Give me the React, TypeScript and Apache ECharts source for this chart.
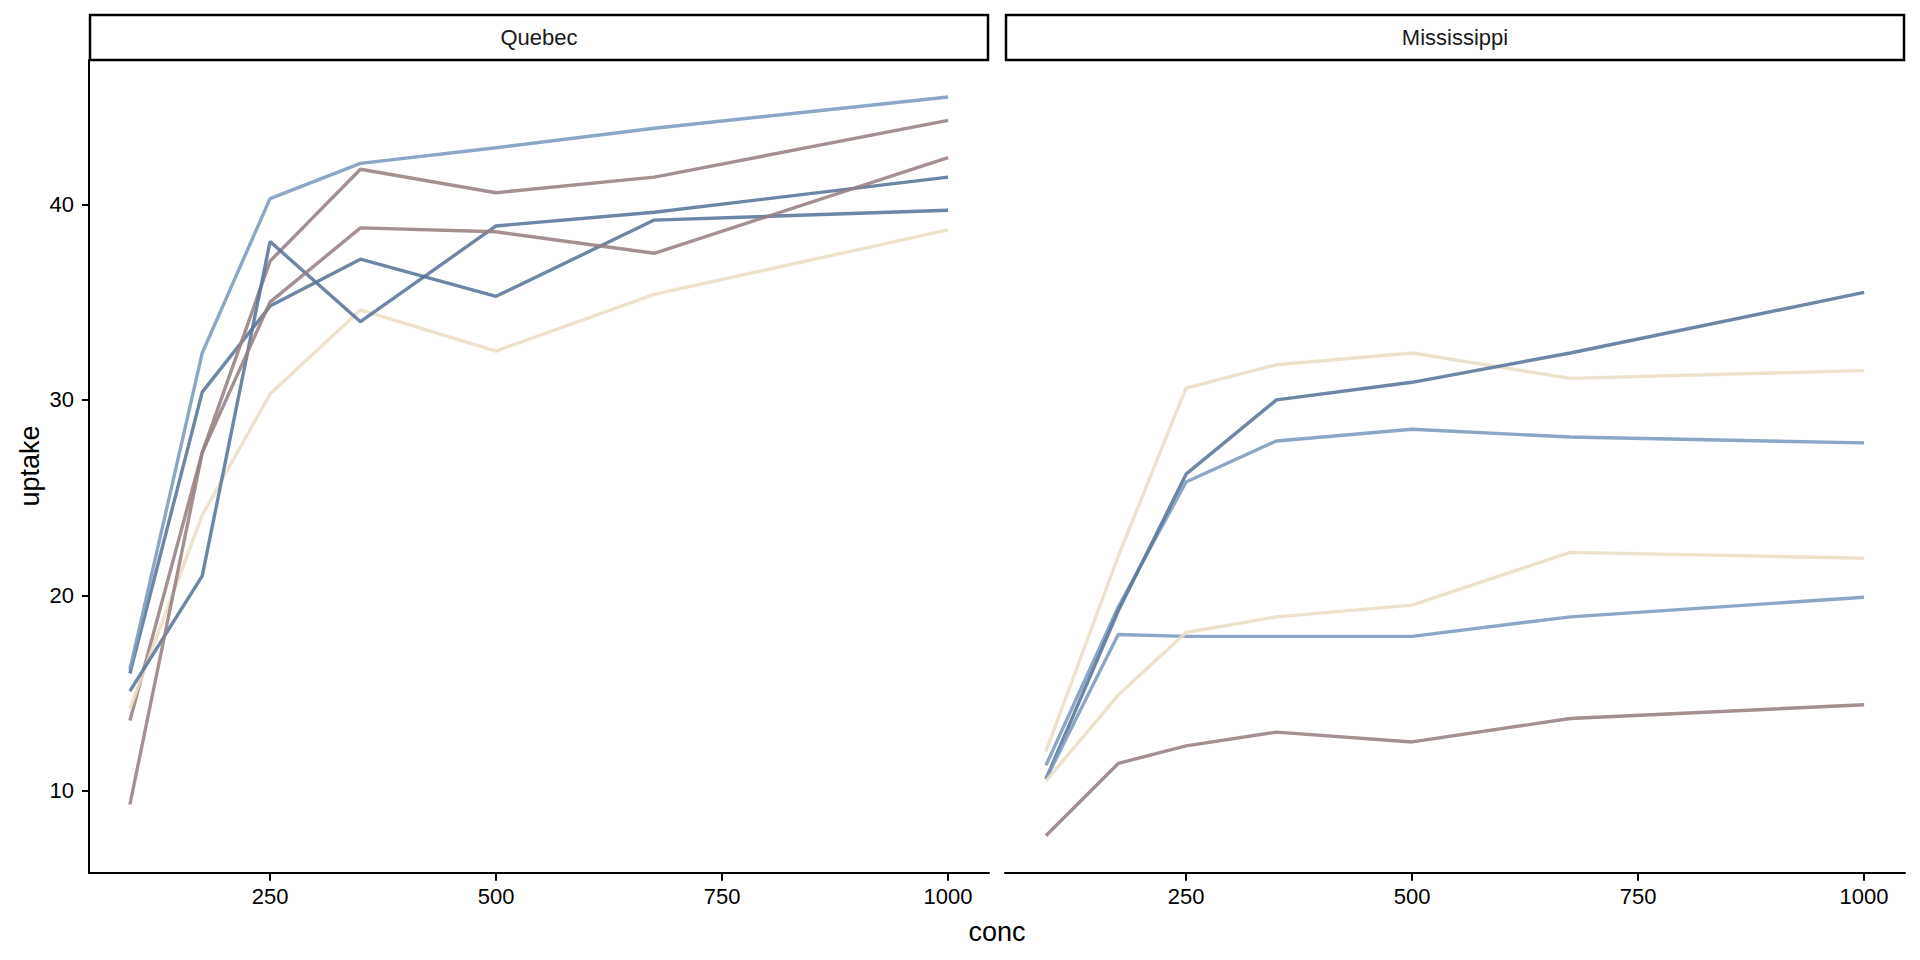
import React, { useEffect, useRef } from "react";
import * as echarts from "echarts";

const conc = [95, 175, 250, 350, 500, 675, 1000];
const panels = ["Quebec", "Mississippi"];
const plants = ["Qn1", "Qn2", "Qn3", "Qc1", "Qc3", "Qc2", "Mn3", "Mn2", "Mn1", "Mc2", "Mc3", "Mc1"];
const plantPanel = [0, 0, 0, 0, 0, 0, 1, 1, 1, 1, 1, 1];
const Qn1 = [16.0, 30.4, 34.8, 37.2, 35.3, 39.2, 39.7];
const Qn2 = [13.6, 27.3, 37.1, 41.8, 40.6, 41.4, 44.3];
const Qn3 = [16.2, 32.4, 40.3, 42.1, 42.9, 43.9, 45.5];
const Qc1 = [14.2, 24.1, 30.3, 34.6, 32.5, 35.4, 38.7];
const Qc3 = [15.1, 21.0, 38.1, 34.0, 38.9, 39.6, 41.4];
const Qc2 = [9.3, 27.3, 35.0, 38.8, 38.6, 37.5, 42.4];
const Mn3 = [11.3, 19.4, 25.8, 27.9, 28.5, 28.1, 27.8];
const Mn2 = [12.0, 22.0, 30.6, 31.8, 32.4, 31.1, 31.5];
const Mn1 = [10.6, 19.2, 26.2, 30.0, 30.9, 32.4, 35.5];
const Mc2 = [7.7, 11.4, 12.3, 13.0, 12.5, 13.7, 14.4];
const Mc3 = [10.6, 18.0, 17.9, 17.9, 17.9, 18.9, 19.9];
const Mc1 = [10.5, 14.9, 18.1, 18.9, 19.5, 22.2, 21.9];
const uptake = [Qn1, Qn2, Qn3, Qc1, Qc3, Qc2, Mn3, Mn2, Mn1, Mc2, Mc3, Mc1];
const palette = ["#587499", "#968080", "#7B99BE", "#EBDEC5"];
const xTicks = [250, 500, 750, 1000];
const yTicks = [10, 20, 30, 40];
const xRange = [49.75, 1045.25];
const yRange = [5.81, 47.39];

const FONT = "Liberation Sans, Arial, sans-serif";

export default function App() {
  const ref = useRef<HTMLDivElement>(null);
  useEffect(() => {
    if (!ref.current) return;
    const chart = echarts.init(ref.current, undefined, { renderer: "svg" });
    const gridTop = 60;
    const gridH = 812.7;
    const lefts = [89, 1005];
    const w = 900;
    const grids = lefts.map((l) => ({ left: l, top: gridTop, width: w, height: gridH }));
    const xAxes = lefts.map((_, i) => ({
      type: "value",
      gridIndex: i,
      min: xRange[0],
      max: xRange[1],
      splitLine: { show: false },
      axisLine: { show: true, onZero: false, lineStyle: { color: "#000", width: 2 } },
      axisTick: { show: true, length: 8, lineStyle: { color: "#000", width: 2 }, customValues: xTicks },
      axisLabel: {
        show: true,
        color: "#000",
        fontSize: 22,
        fontFamily: FONT,
        margin: 13,
        customValues: xTicks,
        formatter: (v: number) => String(v),
      },
    }));
    const yAxes = lefts.map((_, i) => ({
      type: "value",
      gridIndex: i,
      min: yRange[0],
      max: yRange[1],
      splitLine: { show: false },
      axisLine: { show: i === 0, onZero: false, lineStyle: { color: "#000", width: 2 } },
      axisTick: { show: i === 0, length: 7, lineStyle: { color: "#000", width: 2 }, customValues: yTicks },
      axisLabel: {
        show: i === 0,
        color: "#000",
        fontSize: 22,
        fontFamily: FONT,
        margin: 15,
        customValues: yTicks,
        formatter: (v: number) => String(v),
      },
    }));
    const series = plants.map((p, k) => ({
      name: p,
      type: "line",
      xAxisIndex: plantPanel[k],
      yAxisIndex: plantPanel[k],
      data: conc.map((c, j) => [c, uptake[k][j]]),
      showSymbol: false,
      symbol: "none",
      lineStyle: { color: palette[k % 4], width: 3.4, opacity: 0.87 },
      itemStyle: { color: palette[k % 4] },
      z: 2,
    }));
    const graphics: any[] = [];
    lefts.forEach((l, i) => {
      graphics.push({
        type: "rect",
        shape: { x: l + 1, y: 15, width: w - 2, height: 45 },
        style: { fill: "#fff", stroke: "#000", lineWidth: 2.5 },
      });
      graphics.push({
        type: "text",
        x: l + w / 2,
        y: 37.5,
        style: { text: panels[i], fill: "#1a1a1a", fontSize: 22, fontFamily: FONT, align: "center", verticalAlign: "middle" },
      });
    });
    graphics.push({
      type: "text",
      x: 997,
      y: 932,
      style: { text: "conc", fill: "#000", fontSize: 27, fontFamily: FONT, align: "center", verticalAlign: "middle" },
    });
    graphics.push({
      type: "text",
      x: 30,
      y: 466,
      rotation: Math.PI / 2,
      style: { text: "uptake", fill: "#000", fontSize: 27, fontFamily: FONT, align: "center", verticalAlign: "middle" },
    });
    chart.setOption({
      animation: false,
      backgroundColor: "#fff",
      grid: grids,
      xAxis: xAxes,
      yAxis: yAxes,
      series,
      graphic: graphics,
    });
    return () => chart.dispose();
  }, []);
  return <div ref={ref} style={{ width: 1920, height: 960, position: "absolute", left: 0, top: 0 }} />;
}
